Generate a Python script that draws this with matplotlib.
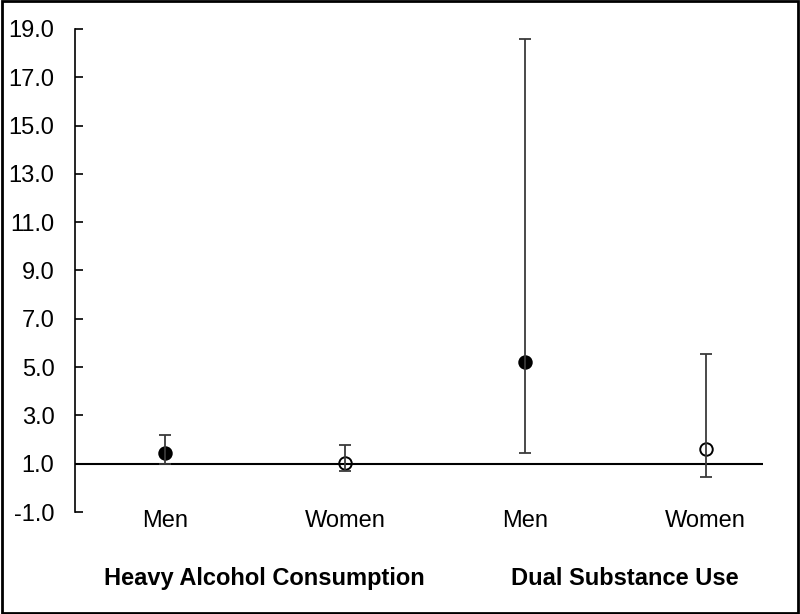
import numpy as np
import matplotlib.pyplot as plt
from matplotlib.patches import Rectangle

plt.rcParams["font.family"] = ["Liberation Sans", "DejaVu Sans"]

# data
sexes = ["Men", "Women", "Men", "Women"]
groups = ["Heavy Alcohol Consumption", "Dual Substance Use"]
estimate = [1.45, 1.04, 5.2, 1.6]
ci_low = [1.0, 0.68, 1.45, 0.45]
ci_high = [2.2, 1.78, 18.6, 5.55]
filled = [True, False, True, False]
y_ticks = [-1.0, 1.0, 3.0, 5.0, 7.0, 9.0, 11.0, 13.0, 15.0, 17.0, 19.0]

x = np.arange(1, len(sexes) + 1)
est = np.array(estimate)
yerr = np.vstack([est - np.array(ci_low), np.array(ci_high) - est])

fig = plt.figure(figsize=(8.0, 6.14), dpi=100)
ax = fig.add_axes([0.094, 0.166, 0.86, 0.787])

# reference line at 1.0 acts as the category axis
ax.axhline(1.0, color="black", lw=1.5, zorder=1)

for xi, yi, f in zip(x, est, filled):
    ax.plot(xi, yi, "o", ms=9, mew=1.4, mec="black",
            mfc="black" if f else "none", zorder=2)
ax.errorbar(x, est, yerr=yerr, fmt="none", ecolor="#3a3a3a",
            elinewidth=1.3, capsize=4.5, capthick=1.3, zorder=3)

ax.set_xlim(0.5, 4.32)
ax.set_ylim(-1.0, 19.0)
ax.set_yticks(y_ticks)
ax.set_yticklabels([f"{t:.1f}" for t in y_ticks], fontsize=17)
ax.tick_params(axis="y", direction="in", length=6, width=1.2, pad=15)
ax.set_xticks([])
for side in ["top", "right", "bottom"]:
    ax.spines[side].set_visible(False)
ax.spines["left"].set_linewidth(1.2)

for xi, s in zip(x, sexes):
    ax.text(xi, -1.6, s, ha="center", va="baseline", fontsize=17, clip_on=False)
for gi, g in enumerate(groups):
    ax.text(x[2 * gi] + 0.55, -4.0, g, ha="center", va="baseline", fontsize=17,
            fontweight="bold", clip_on=False)

fig.patches.append(Rectangle((0.002, 0.002), 0.996, 0.996, transform=fig.transFigure,
                             fill=False, edgecolor="black", lw=2))

fig.savefig("out.png", dpi=100)
